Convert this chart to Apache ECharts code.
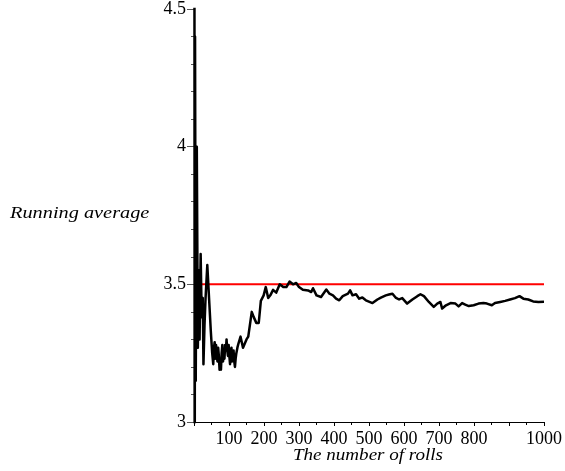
<!DOCTYPE html>
<html>
<head>
<meta charset="utf-8">
<script src="https://cdn.jsdelivr.net/npm/echarts@6/dist/echarts.min.js"></script>
<style>
  html, body { margin: 0; padding: 0; background: #fff; }
  #chart { width: 565px; height: 471px; }
</style>
</head>
<body>
<div id="chart"></div>
<script>
// Running average of die rolls against the expected value 3.5
const rolls = [1, 2, 3, 5, 8, 11, 14, 16, 19, 22, 25, 27, 30, 33, 38, 43, 48, 52,
  55, 57, 59, 61, 63, 65, 67, 69, 71, 73, 75, 77, 79, 81, 83, 85, 87, 89, 91, 93, 95, 97, 99,
  101, 103, 105, 107, 109, 111, 113, 115, 117, 119, 121, 124,
  127, 133, 140, 150, 155, 165, 171, 178, 185, 191, 199, 205, 212, 218, 226, 235, 245,
  255, 264, 273, 283, 292, 300, 311, 326, 335, 340, 350, 363, 378, 387, 397, 406, 415,
  425, 440, 446, 453, 463, 472, 481, 491, 496, 510, 524, 534, 548, 557, 567, 576, 586,
  595, 609, 624, 638, 647, 657, 671, 685, 695, 704, 709, 720, 733, 747, 756, 766, 775,
  785, 799, 813, 827, 837, 851, 860, 875, 889, 903, 917, 930, 941, 955, 969, 984, 1000];
const average = [5.5, 2.5, 4.4, 3.15, 4.0, 3.27, 3.55, 3.3, 3.61, 3.38, 3.45, 3.21, 3.35, 3.45, 3.57, 3.45, 3.33, 3.25,
  3.21, 3.27, 3.29, 3.23, 3.28, 3.25, 3.22, 3.27, 3.24, 3.19, 3.22, 3.19, 3.25, 3.28, 3.22, 3.26, 3.23, 3.28, 3.26, 3.30, 3.26, 3.24, 3.28,
  3.24, 3.21, 3.25, 3.27, 3.22, 3.24, 3.26, 3.22, 3.20, 3.23, 3.25, 3.27,
  3.285, 3.31, 3.27, 3.30, 3.31, 3.40, 3.38, 3.36, 3.36, 3.44, 3.46, 3.49, 3.45, 3.46, 3.48, 3.47, 3.50,
  3.49, 3.49, 3.51, 3.50, 3.505, 3.49, 3.48, 3.478, 3.472, 3.486, 3.46, 3.454, 3.481, 3.466, 3.46, 3.448, 3.442,
  3.457, 3.466, 3.478, 3.46, 3.464, 3.448, 3.452, 3.442, 3.442, 3.432, 3.445, 3.452, 3.46, 3.463, 3.466, 3.452, 3.445,
  3.45, 3.43, 3.445, 3.457, 3.464, 3.457, 3.436, 3.418, 3.43, 3.436, 3.412, 3.424, 3.432, 3.43, 3.42, 3.432, 3.426,
  3.421, 3.424, 3.43, 3.432, 3.43, 3.424, 3.432, 3.436, 3.44, 3.445, 3.45, 3.457, 3.448, 3.445, 3.438, 3.436, 3.437];
const expected = 3.5;
const xTicks = ['100', '200', '300', '400', '500', '600', '700', '800', '1000'];
const yTicks = ['3', '3.5', '4', '4.5'];

const serif = '"Liberation Serif", "DejaVu Serif", serif';
const chart = echarts.init(document.getElementById('chart'));

chart.setOption({
  animation: false,
  backgroundColor: '#fff',
  grid: { left: 194, right: 19, top: 8, bottom: 49, containLabel: false },
  xAxis: {
    type: 'value', min: 0, max: 1000, interval: 100,
    axisLine: { show: true, onZero: false, lineStyle: { color: '#000', width: 1 } },
    axisTick: { show: true, length: 4, lineStyle: { color: '#000' } },
    minorTick: { show: true, splitNumber: 2, length: 3, lineStyle: { color: '#000' } },
    splitLine: { show: false },
    axisLabel: {
      color: '#000', fontFamily: serif, fontSize: 18, margin: 8,
      formatter: v => xTicks.includes(String(v)) ? String(v) : ''
    }
  },
  yAxis: {
    type: 'value', min: 3, max: 4.5, interval: 0.5,
    axisLine: { show: true, onZero: false, lineStyle: { color: '#777', width: 1 } },
    axisTick: { show: true, length: 7, lineStyle: { color: '#555' } },
    minorTick: { show: true, splitNumber: 5, length: 3, lineStyle: { color: '#555' } },
    splitLine: { show: false },
    axisLabel: {
      color: '#000', fontFamily: serif, fontSize: 18, margin: 8,
      formatter: v => {
        const s = String(v);
        return yTicks.includes(s) ? s : '';
      }
    }
  },
  graphic: [
    {
      type: 'text', x: 10, y: 206, scaleX: 1.27,
      style: { text: 'Running average', font: 'italic 16px ' + serif, fill: '#000' }
    },
    {
      type: 'text', x: 293, y: 448, scaleX: 1.19,
      style: { text: 'The number of rolls', font: 'italic 16px ' + serif, fill: '#000' }
    }
  ],
  series: [
    {
      type: 'line',
      data: [[0, expected], [1000, expected]],
      showSymbol: false,
      lineStyle: { color: '#ff0000', width: 2 },
      z: 2
    },
    {
      type: 'line',
      data: rolls.map((n, i) => [n, average[i]]),
      showSymbol: false,
      clip: true,
      lineStyle: { color: '#000', width: 2.5, join: 'round' },
      z: 3
    }
  ]
});
</script>
</body>
</html>
